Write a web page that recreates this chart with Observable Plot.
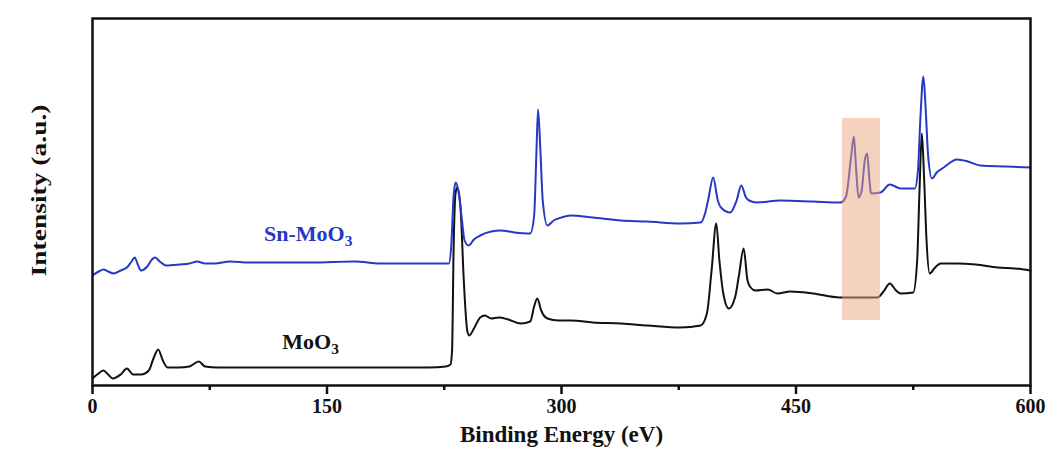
<!DOCTYPE html>
<html>
<head>
<meta charset="utf-8">
<script src="https://cdn.jsdelivr.net/npm/d3@7"></script>
<script src="https://cdn.jsdelivr.net/npm/@observablehq/plot@0.6"></script>
<style>
  html, body { margin: 0; padding: 0; background: #fff; }
</style>
</head>
<body>
<div id="chart"></div>
<script>
// Binding energy (eV) and intensity (a.u.)
const energyMoO3 = [0,3,7,10,13,18,22,26,31,36,39,42,45,48,55,62,68,72,80,100,130,160,190,215,226,229,230,231,232.2,233.3,235.4,237.5,239.7,241,244,248,251,255,260,266,274,280,282.5,284.5,287,291,298,306,320,338,355,376,389,393,396,399,401,403.5,407,411,413.5,416.5,419,421,424,432,438,446.5,461,478,490,502,506,510,514,517,525,527.5,529,530.5,532,533.5,535.5,539,542.5,553,565,579,590,600];
const intensityMoO3 = [7,11,15,11,7,11,17,11,11,15,27,36,25,18,18,19,24,19,18,18,18,18,18,18,19,21,35,138,192,198,178,105,55,50,57,68,70,67,68,66,62,64,79,87,75,67,65,65,63,62,60,58,60,72,115,162,125,92,77,88,110,137,105,98,95,96,92,94,92,88,88,88,94,102,95,92,93,125,195,252,205,145,112,118,122,122,121,118,117,115];

const energySn = [0,4,7,10,13.5,18,22,25,27,29,31,35,38,40,43,47,56,62,67,72,78,88,100,120,140,168,184,200,210,228,229.5,231,232.3,234,236,238,240.5,244,248,255,261,270,280,282.5,284,285,286.5,288,291,295,300,306,320,338,355,376,389,392,394,397,400,402,408,412,415,418,420,425,440,461,478.5,482,485,487,488.5,490,492,494,495.5,497,498,504,510,517,526,528,529.5,531.5,533,534.5,537,540,544.5,553,560,568,585,600];
const intensitySn = [110,114,116,114,112,115,118,124,128,121,115,119,126,128,124,120,121,122,124,122,122,124,123,123,123,124,122,122,122,122,140,190,203,195,170,145,140,146,150,154,155,153,152,170,235,276,235,185,160,165,168,170,168,165,164,162,163,173,187,208,185,178,173,185,200,188,185,183,185,184,183,189,225,249,215,188,195,225,232,205,192,193,201,197,197,215,265,309,275,230,207,213,218,226,224,220,219,218];

const majorTicks = [0,150,300,450,600];
const minorTicks = [75,225,375,525];

const seriesLabels = ["Sn-MoO3", "MoO3"];
const seriesColors = ["#2638c4", "#111111"];
const labelEnergy = [138, 139.5];
const labelIntensity = [152, 44];

// highlighted Sn 3d region
const highlightEnergy = [479.8, 504];
const highlightIntensity = [65, 267];

const moo3 = energyMoO3.map((e, k) => ({e, i: intensityMoO3[k]}));
const snmoo3 = energySn.map((e, k) => ({e, i: intensitySn[k]}));
const labels = seriesLabels.map((t, k) => ({t, e: labelEnergy[k], i: labelIntensity[k], c: seriesColors[k]}));

const svg = Plot.plot({
  width: 1049,
  height: 466,
  marginLeft: 92,
  marginRight: 19,
  marginTop: 18,
  marginBottom: 81,
  style: {fontFamily: "'Liberation Serif', 'Times New Roman', serif", fontWeight: "bold", background: "#fff", color: "#111"},
  x: {domain: [0, 600]},
  y: {domain: [0, 367], axis: null},
  marks: [
    Plot.line(moo3, {x: "e", y: "i", stroke: seriesColors[1], strokeWidth: 2, curve: "monotone-x"}),
    Plot.line(snmoo3, {x: "e", y: "i", stroke: seriesColors[0], strokeWidth: 2, curve: "monotone-x"}),
    Plot.rect([0], {x1: () => highlightEnergy[0], x2: () => highlightEnergy[1], y1: () => highlightIntensity[0], y2: () => highlightIntensity[1], fill: "#eba57c", fillOpacity: 0.5}),
    Plot.frame({stroke: "#111", strokeWidth: 2.5}),
    Plot.axisX(majorTicks, {tickSize: 9, tickPadding: 4, strokeWidth: 2.5, fontSize: 20, label: null, tickFormat: d => String(d)}),
    Plot.axisX(minorTicks, {tickSize: 5, strokeWidth: 2.5, tickFormat: () => "", label: null}),
    Plot.text(labels, {x: "e", y: "i", text: "t", fill: "c", fontSize: 22, textAnchor: "middle", lineAnchor: "middle"}),
    Plot.text(["Binding Energy (eV)"], {frameAnchor: "bottom", dy: 56, fontSize: 23, fill: "#111"}),
    Plot.text(["Intensity (a.u.)"], {x: () => -34.5, y: () => 195, rotate: -90, fontSize: 22, fill: "#111"})
  ]
});

svg.querySelectorAll("text").forEach(t => {
  // render the "3" in MoO3 as a subscript
  if (t.children.length === 0 && /MoO3$/.test(t.textContent)) {
    const s = t.textContent;
    t.textContent = s.slice(0, -1);
    const ts = document.createElementNS("http://www.w3.org/2000/svg", "tspan");
    ts.setAttribute("font-size", "0.7em");
    ts.setAttribute("dy", "0.35em");
    ts.textContent = "3";
    t.appendChild(ts);
  }
  // the vertical label is drawn elongated in the original
  if (t.textContent === "Intensity (a.u.)") {
    t.setAttribute("textLength", "172");
    t.setAttribute("lengthAdjust", "spacingAndGlyphs");
  }
});

document.getElementById("chart").appendChild(svg);
</script>
</body>
</html>
